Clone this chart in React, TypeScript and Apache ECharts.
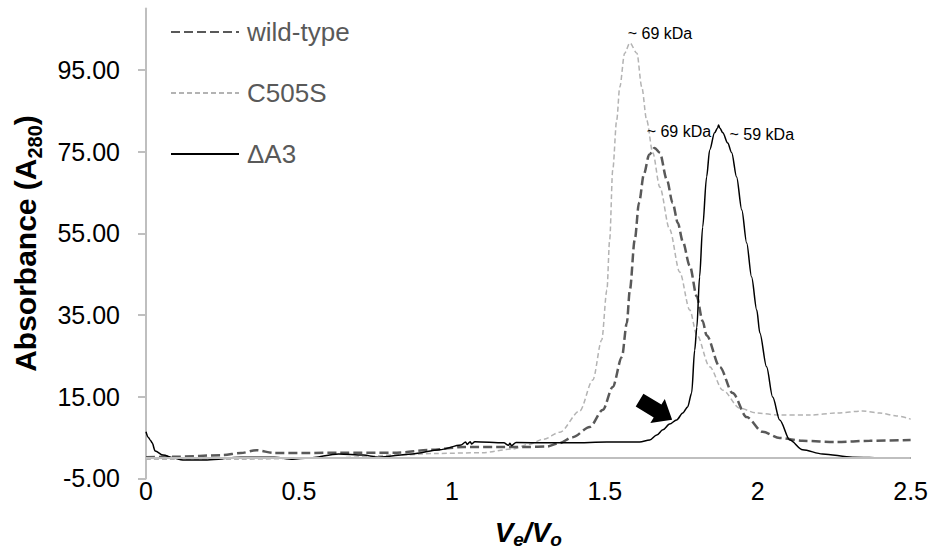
import React, { useEffect, useRef } from "react";
import * as echarts from "echarts";

const FONT = "'Liberation Sans', Arial, sans-serif";

const seriesNames = ["wild-type", "C505S", "ΔA3"];

const wildTypeX = [0, 0.1, 0.25, 0.31, 0.36, 0.42, 0.53, 0.63, 0.82, 0.93, 1.04, 1.15, 1.25, 1.31, 1.35, 1.395, 1.451, 1.494, 1.526, 1.556, 1.572, 1.582, 1.598, 1.612, 1.628, 1.645, 1.663, 1.68, 1.703, 1.722, 1.739, 1.755, 1.778, 1.801, 1.82, 1.833, 1.876, 1.918, 1.964, 2.016, 2.072, 2.147, 2.258, 2.366, 2.5];
const wildTypeY = [0.2, 0.3, 0.7, 1.2, 1.9, 1.2, 1.2, 1.3, 1.3, 2.0, 2.7, 2.7, 2.7, 2.8, 3.6, 5.1, 7.6, 11.8, 17.4, 24.7, 33.0, 41.1, 53.4, 62.5, 69.5, 74.2, 75.9, 74.7, 68.1, 62.4, 57.5, 53.0, 47.0, 39.5, 33.5, 30.0, 22.3, 15.9, 10.0, 6.4, 4.9, 4.2, 3.9, 4.2, 4.4];

const c505sX = [0, 0.3, 0.6, 0.85, 0.95, 1.1, 1.2, 1.25, 1.3, 1.353, 1.418, 1.461, 1.49, 1.507, 1.516, 1.526, 1.539, 1.549, 1.565, 1.582, 1.605, 1.621, 1.637, 1.657, 1.68, 1.712, 1.745, 1.778, 1.801, 1.843, 1.886, 1.941, 1.997, 2.072, 2.17, 2.258, 2.343, 2.399, 2.454, 2.5];
const c505sY = [-0.3, -0.3, 0, 0.8, 1.1, 1.3, 2.2, 3.3, 4.6, 6.3, 11.5, 19.1, 28.9, 41.1, 53.4, 70.5, 82.7, 90.8, 99.1, 101.6, 99.1, 90.8, 82.7, 74.7, 66.3, 56.0, 45.5, 36.2, 30.1, 22.3, 16.6, 12.2, 11.0, 10.5, 10.5, 11.0, 11.5, 11.0, 10.3, 9.5];

const deltaA3X = [0, 0.007, 0.015, 0.02, 0.03, 0.056, 0.09, 0.12, 0.2, 0.31, 0.42, 0.48, 0.53, 0.63, 0.71, 0.76, 0.87, 0.96, 1.03, 1.045, 1.05, 1.06, 1.065, 1.075, 1.17, 1.185, 1.19, 1.195, 1.21, 1.31, 1.395, 1.507, 1.614, 1.647, 1.67, 1.69, 1.712, 1.735, 1.755, 1.771, 1.784, 1.794, 1.801, 1.81, 1.82, 1.833, 1.843, 1.859, 1.869, 1.872, 1.876, 1.886, 1.902, 1.915, 1.931, 1.948, 1.964, 1.98, 1.997, 2.007, 2.029, 2.049, 2.072, 2.105, 2.147, 2.212, 2.31, 2.42, 2.5];
const deltaA3Y = [6.4, 5.1, 4.3, 3.7, 1.7, 0.7, 0, -0.5, -0.5, 0.2, 0.2, -0.3, 0, 1.0, 0.7, 0.2, 1.0, 2.0, 3.2, 3.9, 3.3, 4.0, 3.4, 4.0, 3.7, 3.1, 3.6, 3.0, 3.8, 3.7, 3.7, 3.9, 3.9, 4.4, 5.6, 6.9, 8.3, 9.3, 11.0, 12.5, 15.9, 26.4, 32.0, 44.3, 56.5, 68.8, 75.4, 79.6, 80.8, 81.5, 80.8, 79.6, 77.1, 74.7, 68.8, 60.7, 52.6, 44.3, 36.2, 30.6, 22.3, 14.9, 9.3, 4.4, 2.0, 1.0, 0.2, 0, 0];

const yTicks = [-5, 15, 35, 55, 75, 95];
const xTicks = [0, 0.5, 1, 1.5, 2, 2.5];

const peakLabels = ["~ 69 kDa", "~ 69 kDa", "~ 59 kDa"];
const peakLabelX = [1.575, 1.637, 1.908];
const peakLabelY = [103.9, 79.9, 79.1];

const arrowAt = [1.667, 11.75];

function zip(xs: number[], ys: number[]) {
  return xs.map((x, i) => [x, ys[i]]);
}

function labelPoint(i: number) {
  return {
    coord: [peakLabelX[i], peakLabelY[i]],
    symbol: "circle",
    symbolSize: 0,
    label: {
      show: true,
      position: "right",
      distance: 0,
      formatter: peakLabels[i],
      color: "#000",
      fontSize: 16,
      fontFamily: FONT,
    },
  };
}

export default function App() {
  const ref = useRef<HTMLDivElement>(null);
  useEffect(() => {
    if (!ref.current) return;
    const chart = echarts.init(ref.current, undefined, { renderer: "svg" });
    const option: any = {
      animation: false,
      backgroundColor: "#fff",
      grid: { left: 146, right: 19, top: 8.6, bottom: 77.6 },
      legend: {
        data: seriesNames,
        orient: "vertical",
        left: 170,
        top: 19,
        itemWidth: 68,
        itemHeight: 14,
        itemGap: 35,
        padding: 0,
        itemStyle: { opacity: 0, borderWidth: 0 },
        textStyle: { fontSize: 26, color: "#595959", fontFamily: FONT, padding: [0, 0, 0, 3] },
      },
      xAxis: {
        type: "value",
        min: 0,
        max: 2.5,
        interval: 0.5,
        axisLine: { show: false, onZero: false },
        axisTick: { show: false },
        splitLine: { show: false },
        axisLabel: {
          fontSize: 25,
          color: "#000",
          fontFamily: FONT,
          margin: 0,
          customValues: xTicks,
        },
        name: "{v|V}{s|e}{v|/V}{s|o}",
        nameLocation: "middle",
        nameGap: 37,
        nameTextStyle: {
          rich: {
            v: { fontSize: 28, fontWeight: "bold", fontStyle: "italic", color: "#000", fontFamily: FONT, lineHeight: 34 },
            s: { fontSize: 19, fontWeight: "bold", fontStyle: "italic", color: "#000", fontFamily: FONT, lineHeight: 34, verticalAlign: "bottom" },
          },
        },
      },
      yAxis: {
        type: "value",
        min: -5,
        max: 110,
        axisLine: { show: true, lineStyle: { color: "#bfbfbf", width: 2 } },
        axisTick: { show: true, length: 8, lineStyle: { color: "#bfbfbf", width: 2 }, customValues: yTicks },
        splitLine: { show: false },
        axisLabel: {
          fontSize: 25,
          color: "#000",
          fontFamily: FONT,
          margin: 26,
          customValues: yTicks,
          formatter: (v: number) => v.toFixed(2),
        },
        name: "{b|Absorbance (A}{s|280}{b|)}",
        nameLocation: "middle",
        nameGap: 101,
        nameTextStyle: {
          rich: {
            b: { fontSize: 30, fontWeight: "bold", color: "#000", fontFamily: FONT, lineHeight: 40 },
            s: { fontSize: 20, fontWeight: "bold", color: "#000", fontFamily: FONT, lineHeight: 40, verticalAlign: "bottom" },
          },
        },
      },
      series: [
        {
          name: "zero",
          type: "line",
          data: [],
          z: 1,
          silent: true,
          markLine: {
            silent: true,
            symbol: "none",
            label: { show: false },
            lineStyle: { color: "#bfbfbf", width: 2, type: "solid" },
            data: [{ yAxis: 0 }],
          },
        },
        {
          name: seriesNames[1],
          type: "line",
          data: zip(c505sX, c505sY),
          symbol: "none",
          smooth: 0.3,
          smoothMonotone: "x",
          z: 2,
          lineStyle: { color: "#b3b3b3", width: 1.5, type: [5, 3] },
          itemStyle: { color: "#b3b3b3" },
          markPoint: { silent: true, data: [labelPoint(0)] },
        },
        {
          name: seriesNames[0],
          type: "line",
          data: zip(wildTypeX, wildTypeY),
          symbol: "none",
          smooth: 0.3,
          smoothMonotone: "x",
          z: 3,
          lineStyle: { color: "#595959", width: 2.5, type: [9, 4] },
          itemStyle: { color: "#595959" },
          markPoint: { silent: true, data: [labelPoint(1)] },
        },
        {
          name: seriesNames[2],
          type: "line",
          data: zip(deltaA3X, deltaA3Y),
          symbol: "none",
          smooth: 0.3,
          smoothMonotone: "x",
          z: 4,
          lineStyle: { color: "#000", width: 1.5, type: "solid" },
          itemStyle: { color: "#000" },
          markPoint: {
            silent: true,
            data: [
              labelPoint(2),
              {
                coord: arrowAt,
                symbol: "path://M0,7 L21,7 L21,0 L38,15 L21,30 L21,23 L0,23 Z",
                symbolSize: [38, 28],
                symbolRotate: -31,
                itemStyle: { color: "#000", opacity: 1 },
                label: { show: false },
              },
            ],
          },
        },
      ],
    };
    chart.setOption(option);
    return () => chart.dispose();
  }, []);
  return (
    <div
      ref={ref}
      style={{ position: "fixed", left: 0, top: 0, width: 931, height: 556, background: "#fff" }}
    />
  );
}
